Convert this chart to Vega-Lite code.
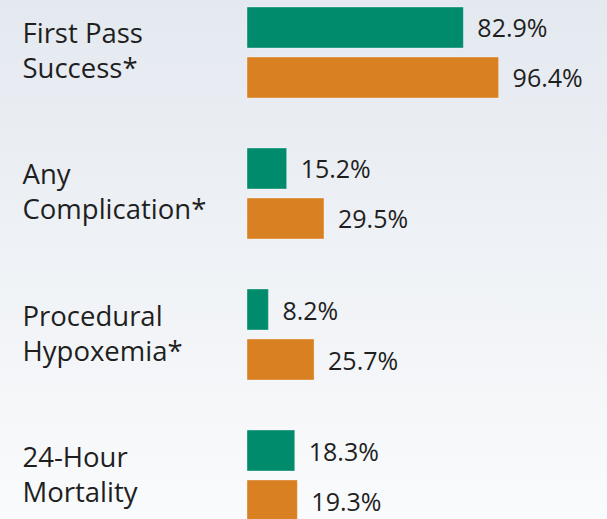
{
  "$schema": "https://vega.github.io/schema/vega-lite/v6.json",
  "width": 607,
  "height": 528,
  "autosize": "none",
  "padding": 0,
  "background": "#f9fafc",
  "config": {
    "view": {
      "stroke": null,
      "fill": {"gradient": "linear", "x1": 0, "y1": 0, "x2": 0, "y2": 1,
        "stops": [{"offset": 0, "color": "#e4e9f0"}, {"offset": 1, "color": "#fafbfc"}]}
    },
    "font": "Open Sans"
  },
  "data": {
    "values": [
      {"outcome": "First Pass\nSuccess*", "group": "Group A", "value": 82.9},
      {"outcome": "First Pass\nSuccess*", "group": "Group B", "value": 96.4},
      {"outcome": "Any\nComplication*", "group": "Group A", "value": 15.2},
      {"outcome": "Any\nComplication*", "group": "Group B", "value": 29.5},
      {"outcome": "Procedural\nHypoxemia*", "group": "Group A", "value": 8.2},
      {"outcome": "Procedural\nHypoxemia*", "group": "Group B", "value": 25.7},
      {"outcome": "24-Hour\nMortality", "group": "Group A", "value": 18.3},
      {"outcome": "24-Hour\nMortality", "group": "Group B", "value": 19.3}
    ]
  },
  "transform": [
    {"calculate": "format(datum.value, '.1f') + '%'", "as": "label"}
  ],
  "encoding": {
    "y": {
      "field": "outcome", "type": "nominal", "sort": null,
      "scale": {"paddingInner": 0.3546, "paddingOuter": 0.0496},
      "axis": {
        "title": null, "domain": false, "ticks": false, "tickSize": 0,
        "labelExpr": "split(datum.label, '\\n')",
        "labelAlign": "left", "labelPadding": 0, "offset": -22, "labelLimit": 0,
        "labelFontSize": 27.5, "labelLineHeight": 35, "labelColor": "#1f1f1f",
        "labelFont": "Open Sans", "labelBaseline": "middle", "labelOffset": -17
      }
    },
    "yOffset": {
      "field": "group", "type": "nominal",
      "scale": {"paddingInner": 0.18, "paddingOuter": 0}
    },
    "x": {
      "field": "value", "type": "quantitative",
      "scale": {"domain": [0, 100], "range": [247, 508]},
      "axis": null
    }
  },
  "layer": [
    {
      "mark": {"type": "bar", "stroke": "#ffffff", "strokeOpacity": 0.35, "strokeWidth": 1},
      "encoding": {
        "color": {
          "field": "group", "type": "nominal",
          "scale": {"domain": ["Group A", "Group B"], "range": ["#008b6d", "#d98022"]},
          "legend": null
        }
      }
    },
    {
      "mark": {"type": "text", "align": "left", "baseline": "middle", "dx": 14, "dy": 2, "fontSize": 25, "color": "#1f1f1f", "font": "Open Sans"},
      "encoding": {
        "text": {"field": "label", "type": "nominal"}
      }
    }
  ]
}
